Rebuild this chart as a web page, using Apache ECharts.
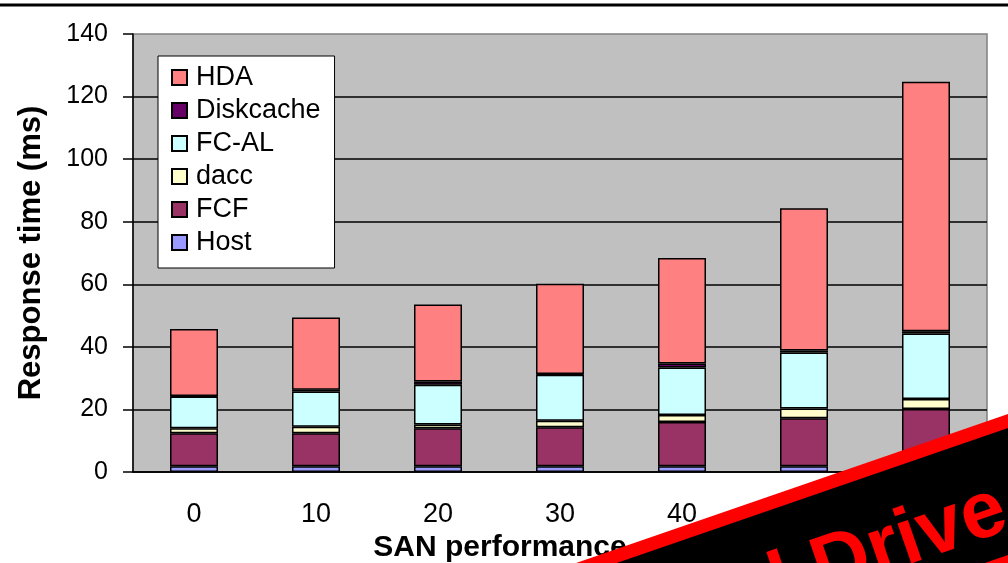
<!DOCTYPE html>
<html>
<head>
<meta charset="utf-8">
<script src="https://cdn.jsdelivr.net/npm/echarts@6/dist/echarts.min.js"></script>
<style>
  html, body { margin: 0; padding: 0; background: #fff; }
  #chart { width: 1008px; height: 563px; }
</style>
</head>
<body>
<div id="chart"></div>
<script>
const categories = ["0", "10", "20", "30", "40", "50", "60"];
const host = [1.8, 1.8, 1.8, 1.8, 1.8, 1.8, 1.8];
const fcf = [10.6, 10.6, 12.2, 12.5, 14.2, 15.4, 18.3];
const dacc = [1.6, 2.1, 1.2, 2.1, 2.2, 3.1, 3.2];
const fcal = [10.1, 11.2, 12.7, 14.7, 15.2, 17.9, 21.0];
const diskcache = [0.2, 0.6, 1.0, 0.2, 1.3, 0.6, 0.7];
const hda = [21.4, 23.1, 24.6, 28.9, 33.7, 45.5, 79.7];
const yTicks = { min: 0, max: 140, interval: 20 };

const font = "'Liberation Sans', Arial, sans-serif";
const chart = echarts.init(document.getElementById("chart"));

function bar(name, data, color) {
  return {
    name: name,
    type: "bar",
    stack: "total",
    barWidth: 48,
    data: data,
    itemStyle: { color: color, borderColor: "#000", borderWidth: 1.5 },
  };
}

// slanted banner in the bottom right corner
const slope = 0.345;
const y0 = 414;
const xAt = (y, off) => 1008 - (y - y0 - off) / slope;

const option = {
  animation: false,
  grid: {
    left: 133,
    right: 21,
    top: 34,
    bottom: 91,
    outerBoundsMode: "none",
    show: true,
    backgroundColor: "#C0C0C0",
    borderColor: "#808080",
    borderWidth: 1.5,
  },
  legend: {
    orient: "vertical",
    left: 158,
    top: 56,
    data: ["HDA", "Diskcache", "FC-AL", "dacc", "FCF", "Host"],
    backgroundColor: "#fff",
    borderColor: "#000",
    borderWidth: 1,
    borderRadius: 0,
    padding: [8, 14, 12, 13],
    itemGap: 6,
    itemWidth: 15,
    itemHeight: 15,
    icon: "rect",
    textStyle: { fontFamily: font, fontSize: 27, color: "#000", padding: [0, 0, 0, 4] },
  },
  xAxis: {
    type: "category",
    data: categories,
    name: "SAN performance",
    nameLocation: "middle",
    nameGap: 60,
    nameTextStyle: { fontFamily: font, fontSize: 30, fontWeight: "bold", color: "#000", padding: [0, 120, 0, 0] },
    axisLine: { lineStyle: { color: "#000", width: 1.5 } },
    axisTick: { length: 10, lineStyle: { color: "#000", width: 1.5 } },
    axisLabel: { fontFamily: font, fontSize: 27, color: "#000", margin: 29 },
  },
  yAxis: {
    type: "value",
    min: yTicks.min,
    max: yTicks.max,
    interval: yTicks.interval,
    name: "Response time (ms)",
    nameLocation: "middle",
    nameGap: 86,
    nameTextStyle: { fontFamily: font, fontSize: 31, fontWeight: "bold", color: "#000" },
    axisLine: { show: true, lineStyle: { color: "#000", width: 1.5 } },
    axisTick: { show: true, length: 10, lineStyle: { color: "#000", width: 1.5 } },
    axisLabel: { fontFamily: font, fontSize: 25, color: "#000", margin: 25 },
    splitLine: { showMaxLine: false, lineStyle: { color: "#000", width: 1.5 } },
  },
  series: [
    bar("Host", host, "#9999FF"),
    bar("FCF", fcf, "#993366"),
    bar("dacc", dacc, "#FFFFCC"),
    bar("FC-AL", fcal, "#CCFFFF"),
    bar("Diskcache", diskcache, "#660066"),
    bar("HDA", hda, "#FF8080"),
  ],
  graphic: [
    {
      type: "line",
      shape: { x1: 0, y1: 5, x2: 1008, y2: 5 },
      style: { stroke: "#000", lineWidth: 3 },
    },
    {
      type: "polygon",
      z: 100,
      shape: { points: [[xAt(563, 0), 563], [1008, y0], [1008, 563]] },
      style: { fill: "#FF0000" },
    },
    {
      type: "polygon",
      z: 101,
      shape: { points: [[xAt(563, 14), 563], [1008, y0 + 14], [1008, y0 + 141], [xAt(563, 141), 563]] },
      style: { fill: "#000" },
    },
    {
      type: "text",
      z: 102,
      x: 1004,
      y: 508,
      rotation: Math.atan(slope),
      style: {
        text: "Virtual Drive",
        fill: "#FF0000",
        font: "bold 80px " + font,
        align: "right",
        verticalAlign: "middle",
      },
    },
  ],
};

chart.setOption(option);
</script>
</body>
</html>
